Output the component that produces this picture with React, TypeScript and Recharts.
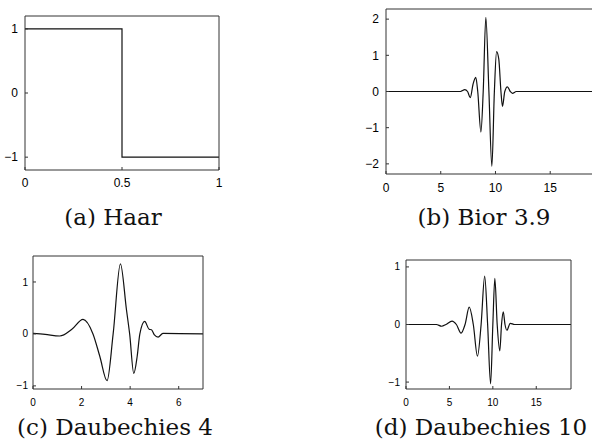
import { LineChart, Line, XAxis, YAxis } from "recharts";

// Haar
const haarX = [0, 0.5, 0.5, 1];
const haarY = [1, 1, -1, -1];

// Bior 3.9
const biorX = [0, 6.8, 7.2, 7.45, 7.7, 7.95, 8.2, 8.38, 8.67, 8.88, 9.12, 9.4, 9.67, 9.9, 10.1, 10.3, 10.5, 10.64, 10.85, 11.09, 11.35, 11.55, 11.9, 19];
const biorY = [0, 0, 0.05, 0, -0.17, 0.2, 0.39, 0, -1.12, 0, 2.05, 0, -2.07, 0, 1.1, 0.9, 0, -0.41, 0, 0.13, 0, -0.05, 0, 0];

// Daubechies 4
const db4X = [0, 0.5, 1.1, 1.6, 2.06, 2.47, 2.75, 3.05, 3.3, 3.6, 3.85, 3.98, 4.15, 4.29, 4.4, 4.6, 4.78, 4.88, 5.0, 5.15, 5.35, 7];
const db4Y = [0.01, -0.01, -0.04, 0.09, 0.28, 0, -0.43, -0.9, 0, 1.35, 0.46, 0, -0.76, -0.43, 0, 0.24, 0.09, 0.08, -0.02, -0.06, 0.01, 0];

// Daubechies 10
const db10X = [0, 3.5, 4.1, 4.6, 5.3, 5.8, 6.34, 6.8, 7.28, 7.75, 8.23, 8.65, 9.06, 9.4, 9.74, 10.0, 10.23, 10.5, 10.8, 11.0, 11.2, 11.4, 11.62, 12.0, 12.5, 19];
const db10Y = [0, 0, -0.03, 0, 0.06, 0, -0.15, 0, 0.3, 0, -0.55, 0, 0.84, 0, -1.03, 0, 0.8, 0, -0.46, 0, 0.22, 0, -0.1, 0.02, 0, 0];

const haarXTicks = [0, 0.5, 1];
const haarYTicks = [-1, 0, 1];
const biorXTicks = [0, 5, 10, 15];
const biorYTicks = [-2, -1, 0, 1, 2];
const db4XTicks = [0, 2, 4, 6];
const db4YTicks = [-1, 0, 1];
const db10XTicks = [0, 5, 10, 15];
const db10YTicks = [-1, 0, 1];

const captions = ["(a) Haar", "(b) Bior 3.9", "(c) Daubechies 4", "(d) Daubechies 10"];

const zip = (xs: number[], ys: number[]) => xs.map((x, i) => ({ x, y: ys[i] }));
const fmt = (v: number) => (v < 0 ? `\u2212${Math.abs(v)}` : `${v}`);

const AXIS = "#333";
const SANS = "'Liberation Sans', Arial, sans-serif";

interface PanelProps {
  data: { x: number; y: number }[];
  left: number;
  top: number;
  width: number;
  height: number;
  marginTop: number;
  yAxisWidth: number;
  xAxisHeight: number;
  xDomain: [number, number];
  yDomain: [number, number];
  xTicks: number[];
  yTicks: number[];
  fontSize: number;
  xTickMargin: number;
  yTickMargin: number;
  curve: "linear" | "monotone";
}

function Panel(p: PanelProps) {
  const tick = { fill: "#000", fontSize: p.fontSize, fontFamily: SANS };
  return (
    <div style={{ position: "absolute", left: p.left, top: p.top }}>
      <LineChart
        width={p.width}
        height={p.height}
        data={p.data}
        margin={{ top: p.marginTop - 1, right: 4, bottom: 0, left: 0 }}
      >
        <XAxis
          dataKey="x"
          type="number"
          domain={p.xDomain}
          ticks={p.xTicks}
          interval={0}
          allowDataOverflow
          tickSize={-3}
          tickMargin={p.xTickMargin}
          height={p.xAxisHeight}
          stroke={AXIS}
          tick={tick}
          tickFormatter={fmt}
        />
        <XAxis
          xAxisId="top"
          orientation="top"
          type="number"
          domain={p.xDomain}
          ticks={p.xTicks}
          interval={0}
          allowDataOverflow
          tickSize={-3}
          tick={false}
          height={1}
          stroke={AXIS}
        />
        <YAxis
          type="number"
          domain={p.yDomain}
          ticks={p.yTicks}
          interval={0}
          allowDataOverflow
          tickSize={-3}
          tickMargin={p.yTickMargin}
          width={p.yAxisWidth}
          stroke={AXIS}
          tick={tick}
          tickFormatter={fmt}
        />
        <YAxis
          yAxisId="right"
          orientation="right"
          type="number"
          domain={p.yDomain}
          ticks={p.yTicks}
          interval={0}
          allowDataOverflow
          tickSize={-3}
          tick={false}
          width={1}
          stroke={AXIS}
        />
        <Line
          dataKey="y"
          type={p.curve}
          stroke="#111"
          strokeWidth={1.2}
          dot={false}
          isAnimationActive={false}
        />
      </LineChart>
    </div>
  );
}

function Caption({ text, cx, top }: { text: string; cx: number; top: number }) {
  return (
    <div
      style={{
        position: "absolute",
        left: cx - 150,
        top,
        width: 300,
        textAlign: "center",
        fontFamily: "'DejaVu Serif', serif",
        fontSize: 23,
        lineHeight: "23px",
        color: "#111",
        whiteSpace: "nowrap",
      }}
    >
      {text}
    </div>
  );
}

export default function App() {
  return (
    <div
      style={{
        position: "absolute",
        left: 0,
        top: 0,
        width: 592,
        height: 444,
        overflow: "hidden",
        background: "#fff",
      }}
    >
      <Panel
        data={zip(haarX, haarY)}
        left={0}
        top={0}
        width={224}
        height={200}
        marginTop={16}
        yAxisWidth={25}
        xAxisHeight={30}
        xDomain={[0, 1]}
        yDomain={[-1.2, 1.2]}
        xTicks={haarXTicks}
        yTicks={haarYTicks}
        fontSize={12}
        xTickMargin={11}
        yTickMargin={10}
        curve="linear"
      />
      <Panel
        data={zip(biorX, biorY)}
        left={340}
        top={0}
        width={259}
        height={204}
        marginTop={9}
        yAxisWidth={46}
        xAxisHeight={30}
        xDomain={[0, 19]}
        yDomain={[-2.28, 2.28]}
        xTicks={biorXTicks}
        yTicks={biorYTicks}
        fontSize={12}
        xTickMargin={12}
        yTickMargin={10}
        curve="monotone"
      />
      <Panel
        data={zip(db4X, db4Y)}
        left={0}
        top={250}
        width={208}
        height={164}
        marginTop={6}
        yAxisWidth={33}
        xAxisHeight={25}
        xDomain={[0, 7]}
        yDomain={[-1.06, 1.5]}
        xTicks={db4XTicks}
        yTicks={db4YTicks}
        fontSize={10}
        xTickMargin={13}
        yTickMargin={8}
        curve="monotone"
      />
      <Panel
        data={zip(db10X, db10Y)}
        left={360}
        top={250}
        width={216}
        height={164}
        marginTop={10}
        yAxisWidth={46}
        xAxisHeight={25}
        xDomain={[0, 19]}
        yDomain={[-1.12, 1.12]}
        xTicks={db10XTicks}
        yTicks={db10YTicks}
        fontSize={10}
        xTickMargin={13}
        yTickMargin={9}
        curve="monotone"
      />
      <Caption text={captions[0]} cx={113} top={206} />
      <Caption text={captions[1]} cx={484} top={206} />
      <Caption text={captions[2]} cx={115} top={416} />
      <Caption text={captions[3]} cx={481} top={416} />
    </div>
  );
}
